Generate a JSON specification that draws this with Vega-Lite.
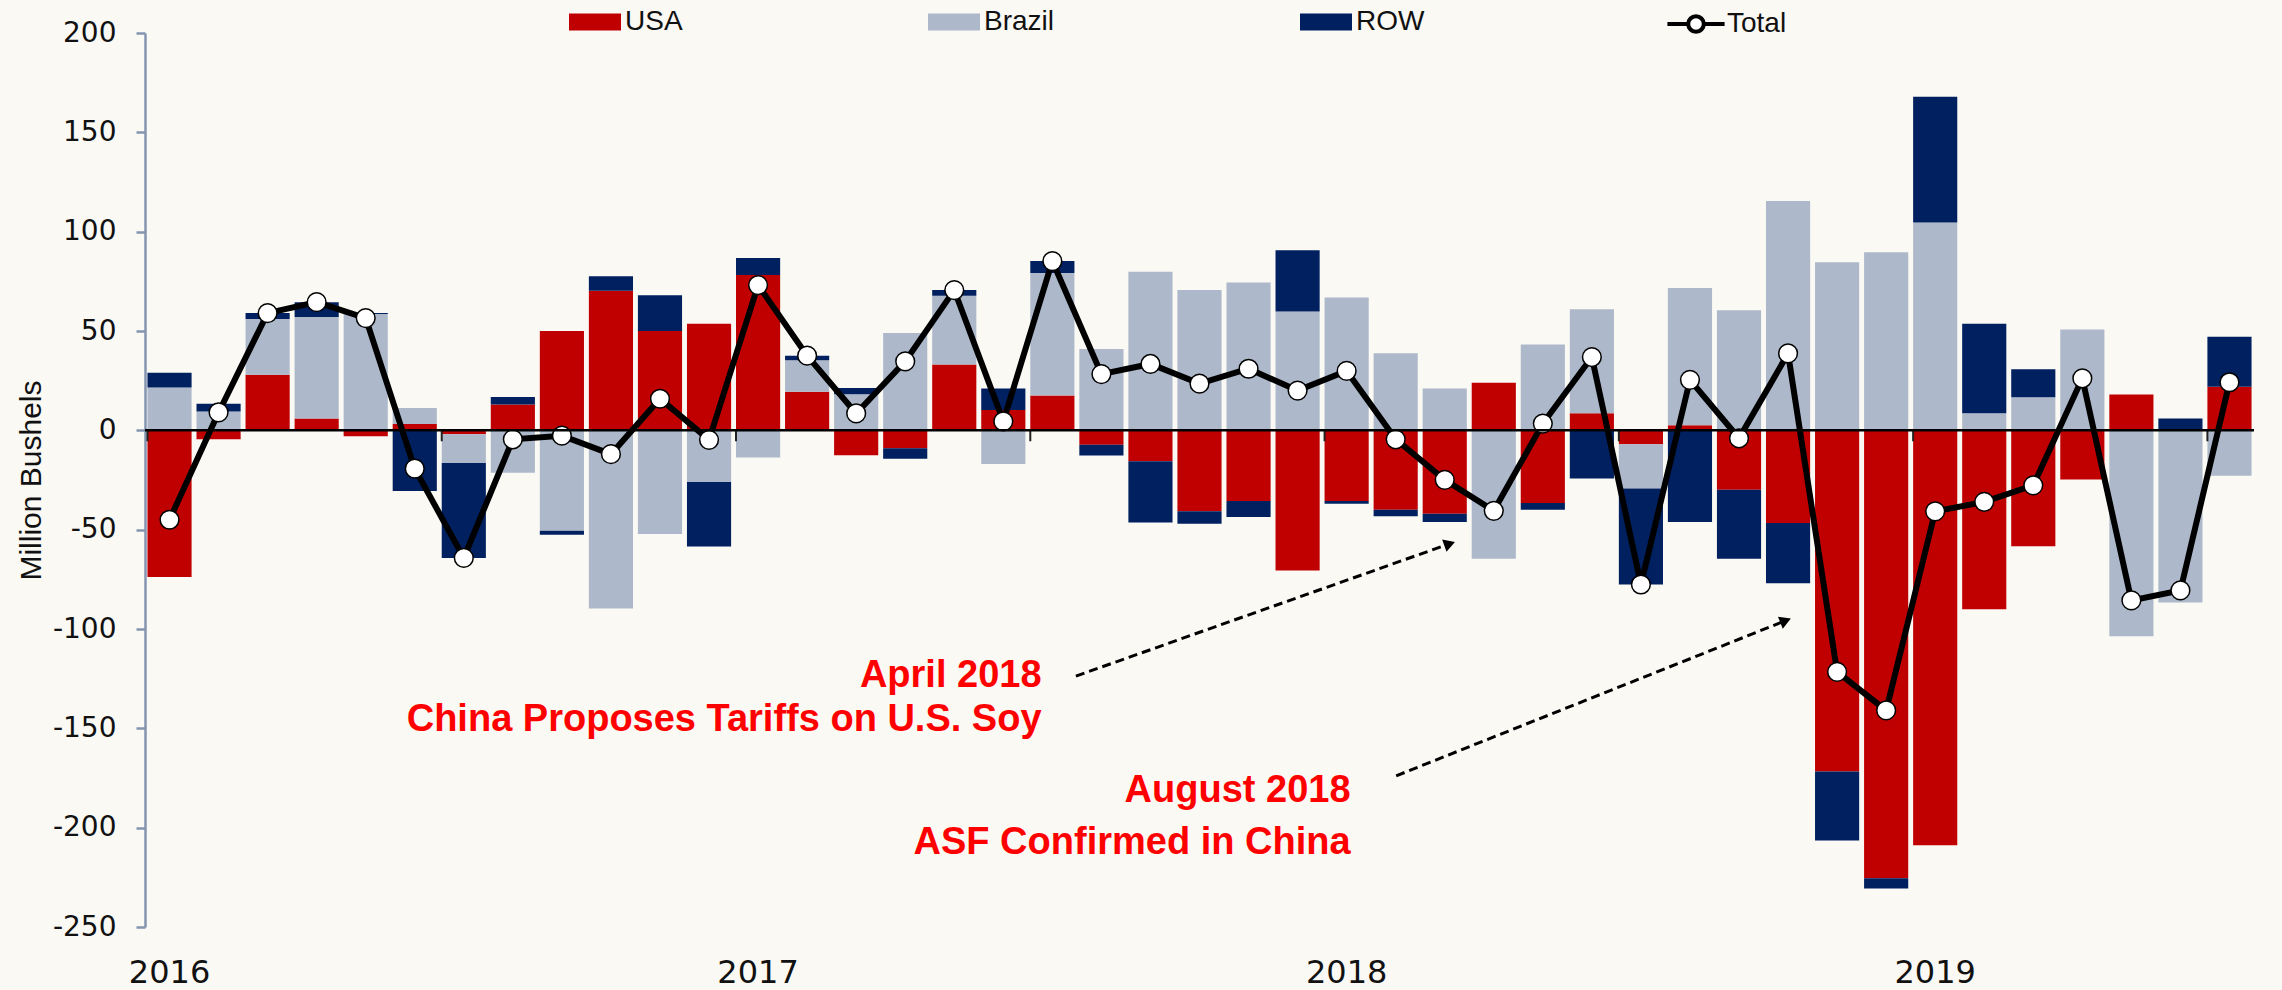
{
  "$schema": "https://vega.github.io/schema/vega-lite/v6.json",
  "width": 2109,
  "height": 894,
  "autosize": "none",
  "padding": {"left": 145, "right": 28, "top": 33, "bottom": 63},
  "background": "#faf9f4",
  "config": {"view": {"stroke": null}},
  "data": {"values": [
    {"month": "2016-01", "USA": -73.8, "Brazil": 21.6, "ROW": 7.4, "Total": -45},
    {"month": "2016-02", "USA": -4.5, "Brazil": 9.5, "ROW": 3.9, "Total": 9},
    {"month": "2016-03", "USA": 28, "Brazil": 28, "ROW": 3, "Total": 59},
    {"month": "2016-04", "USA": 6, "Brazil": 51, "ROW": 7.5, "Total": 64.5},
    {"month": "2016-05", "USA": -3, "Brazil": 58.5, "ROW": 0.5, "Total": 56.5},
    {"month": "2016-06", "USA": 3.2, "Brazil": 8, "ROW": -30.5, "Total": -19.3},
    {"month": "2016-07", "USA": -2, "Brazil": -14.5, "ROW": -47.7, "Total": -64.2},
    {"month": "2016-08", "USA": 13, "Brazil": -21.3, "ROW": 3.8, "Total": -4.5},
    {"month": "2016-09", "USA": 50, "Brazil": -50.6, "ROW": -1.9, "Total": -2.7},
    {"month": "2016-10", "USA": 70.3, "Brazil": -89.7, "ROW": 7.3, "Total": -12},
    {"month": "2016-11", "USA": 50, "Brazil": -52.2, "ROW": 18, "Total": 15.9},
    {"month": "2016-12", "USA": 53.7, "Brazil": -26, "ROW": -32.5, "Total": -4.8},
    {"month": "2017-01", "USA": 78.2, "Brazil": -13.7, "ROW": 8.6, "Total": 73.1},
    {"month": "2017-02", "USA": 19.4, "Brazil": 15.9, "ROW": 2.2, "Total": 37.6},
    {"month": "2017-03", "USA": -12.6, "Brazil": 18.2, "ROW": 3.1, "Total": 8.5},
    {"month": "2017-04", "USA": -9, "Brazil": 49, "ROW": -5.3, "Total": 34.7},
    {"month": "2017-05", "USA": 33.1, "Brazil": 34.6, "ROW": 2.9, "Total": 70.6},
    {"month": "2017-06", "USA": 10.2, "Brazil": -16.9, "ROW": 10.8, "Total": 4.5},
    {"month": "2017-07", "USA": 17.5, "Brazil": 61.7, "ROW": 6, "Total": 85.2},
    {"month": "2017-08", "USA": -7.3, "Brazil": 41, "ROW": -5.4, "Total": 28.3},
    {"month": "2017-09", "USA": -15.6, "Brazil": 79.8, "ROW": -30.8, "Total": 33.4},
    {"month": "2017-10", "USA": -40.7, "Brazil": 70.6, "ROW": -6.3, "Total": 23.5},
    {"month": "2017-11", "USA": -35.6, "Brazil": 74.4, "ROW": -8, "Total": 31},
    {"month": "2017-12", "USA": -70.6, "Brazil": 59.8, "ROW": 30.8, "Total": 20},
    {"month": "2018-01", "USA": -35.6, "Brazil": 66.8, "ROW": -1.3, "Total": 29.9},
    {"month": "2018-02", "USA": -40, "Brazil": 38.8, "ROW": -3.2, "Total": -4.5},
    {"month": "2018-03", "USA": -42, "Brazil": 21, "ROW": -4.1, "Total": -24.9},
    {"month": "2018-04", "USA": 23.9, "Brazil": -64.6, "ROW": 0, "Total": -40.5},
    {"month": "2018-05", "USA": -36.6, "Brazil": 43.2, "ROW": -3.4, "Total": 3.4},
    {"month": "2018-06", "USA": 8.6, "Brazil": 52.4, "ROW": -24.2, "Total": 36.9},
    {"month": "2018-07", "USA": -7, "Brazil": -22.3, "ROW": -48.3, "Total": -77.6},
    {"month": "2018-08", "USA": 2.5, "Brazil": 69.1, "ROW": -46.1, "Total": 25.4},
    {"month": "2018-09", "USA": -29.9, "Brazil": 60.4, "ROW": -34.7, "Total": -4},
    {"month": "2018-10", "USA": -46.7, "Brazil": 115.4, "ROW": -30.3, "Total": 38.7},
    {"month": "2018-11", "USA": -171.7, "Brazil": 84.6, "ROW": -34.7, "Total": -121.6},
    {"month": "2018-12", "USA": -225.5, "Brazil": 89.7, "ROW": -5.1, "Total": -141},
    {"month": "2019-01", "USA": -208.9, "Brazil": 104.6, "ROW": 63.3, "Total": -40.8},
    {"month": "2019-02", "USA": -90, "Brazil": 8.6, "ROW": 45.1, "Total": -36},
    {"month": "2019-03", "USA": -58.4, "Brazil": 16.7, "ROW": 14.1, "Total": -27.7},
    {"month": "2019-04", "USA": -24.7, "Brazil": 50.7, "ROW": 0, "Total": 26.2},
    {"month": "2019-05", "USA": 18, "Brazil": -103.7, "ROW": 0, "Total": -85.6},
    {"month": "2019-06", "USA": 0, "Brazil": -86.6, "ROW": 6, "Total": -80.6},
    {"month": "2019-07", "USA": 22, "Brazil": -22.9, "ROW": 25.1, "Total": 24.2}
  ]},
  "layer": [
    {
      "layer": [
        {
          "transform": [
            {"fold": ["USA", "Brazil", "ROW"], "as": ["series", "value"]},
            {"calculate": "indexof(['USA','Brazil','ROW'], datum.series)", "as": "ord"}
          ],
          "mark": {"type": "bar"},
          "encoding": {
            "x": {
              "field": "month", "type": "ordinal",
              "scale": {"paddingInner": 0.1, "paddingOuter": 0.05},
              "axis": {
                "title": null, "domain": false, "ticks": false, "tickSize": 0,
                "values": ["2016-01", "2017-01", "2018-01", "2019-01"],
                "labelExpr": "substring(datum.value, 0, 4)",
                "labelAngle": 0, "labelPadding": 30,
                "labelFont": "DejaVu Sans", "labelFontSize": 32, "labelColor": "#111111"
              }
            },
            "y": {
              "field": "value", "type": "quantitative", "stack": "zero",
              "scale": {"domain": [-250, 200], "nice": false},
              "axis": {
                "title": "Million Bushels", "titleFont": "Liberation Sans", "titleFontSize": 30,
                "titleFontWeight": "normal", "titleColor": "#111111", "titlePadding": 6,
                "values": [-250, -200, -150, -100, -50, 0, 50, 100, 150, 200],
                "labelExpr": "'' + datum.value",
                "grid": false, "domainColor": "#8395b0", "domainWidth": 2.5,
                "tickColor": "#8395b0", "tickWidth": 2.5, "tickSize": 9, "labelPadding": 20,
                "labelFont": "DejaVu Sans", "labelFontSize": 28, "labelColor": "#111111"
              }
            },
            "color": {
              "field": "series", "type": "nominal",
              "scale": {"domain": ["USA", "Brazil", "ROW"], "range": ["#c00000", "#adb9ca", "#002060"]},
              "legend": {
                "orient": "none", "legendX": 424, "legendY": -37, "direction": "horizontal",
                "title": null, "padding": 0, "symbolSize": 2704,
                "symbolType": "M-1,-0.33H1V0.33H-1Z",
                "labelFont": "Liberation Sans", "labelFontSize": 28, "labelColor": "#111111",
                "labelOffset": 4, "columnPadding": 245, "gridAlign": "none",
                "symbolOpacity": 1, "symbolStrokeWidth": 0
              }
            },
            "order": {"field": "ord", "type": "quantitative"}
          }
        },
        {
          "transform": [{"filter": "substring(datum.month, 5) === '01' || substring(datum.month, 5) === '07'"}],
          "mark": {"type": "rule", "color": "#222222", "strokeWidth": 2},
          "encoding": {
            "x": {"field": "month", "type": "ordinal", "bandPosition": 0},
            "y": {"datum": 0},
            "y2": {"datum": -5.5}
          }
        },
        {
          "mark": {"type": "line", "strokeWidth": 6},
          "encoding": {
            "x": {"field": "month", "type": "ordinal"},
            "y": {"field": "Total", "type": "quantitative"},
            "stroke": {
              "datum": "Total", "type": "nominal",
              "scale": {"domain": ["Total"], "range": ["#000000"]},
              "legend": {
                "orient": "none", "legendX": 1523, "legendY": -37,
                "title": null, "padding": 0, "symbolSize": 2704,
                "symbolType": "M-1.1,0H-0.3M0.3,0H1.1M0.3,0A0.3,0.3,0,1,1,-0.3,0A0.3,0.3,0,1,1,0.3,0Z",
                "symbolStrokeWidth": 4, "symbolFillColor": "#ffffff", "symbolOpacity": 1,
                "labelFont": "Liberation Sans", "labelFontSize": 28, "labelColor": "#111111",
                "labelOffset": 3
              }
            }
          }
        },
        {
          "mark": {"type": "point", "shape": "circle", "filled": true, "fill": "#ffffff", "stroke": "#000000", "strokeWidth": 1.5, "size": 350, "opacity": 1},
          "encoding": {
            "x": {"field": "month", "type": "ordinal"},
            "y": {"field": "Total", "type": "quantitative"}
          }
        }
      ]
    },
    {
      "layer": [
        {
          "data": {"values": [{"y": 0}]},
          "mark": {"type": "rule", "color": "#000000", "strokeWidth": 2.5},
          "encoding": {"y": {"field": "y", "type": "quantitative"}}
        },
        {
          "data": {"values": [
            {"x": 18.28, "y": -129.1, "text": "April 2018"},
            {"x": 18.28, "y": -151.2, "text": "China Proposes Tariffs on U.S. Soy"},
            {"x": 24.58, "y": -187.1, "text": "August 2018"},
            {"x": 24.58, "y": -213.4, "text": "ASF Confirmed in China"}
          ]},
          "mark": {"type": "text", "align": "right", "baseline": "alphabetic", "font": "Liberation Sans", "fontWeight": "bold", "fontSize": 38, "color": "#ff0000"},
          "encoding": {
            "x": {"field": "x", "type": "quantitative", "scale": {"domain": [0, 43], "nice": false, "zero": false}, "axis": null},
            "y": {"field": "y", "type": "quantitative"},
            "text": {"field": "text"}
          }
        },
        {
          "data": {"values": [
            {"x": 18.98, "y": -123.7, "x2": 26.6, "y2": -57.1},
            {"x": 25.51, "y": -173.9, "x2": 33.45, "y2": -95.8}
          ]},
          "mark": {"type": "rule", "color": "#000000", "strokeWidth": 3, "strokeDash": [9, 5]},
          "encoding": {
            "x": {"field": "x", "type": "quantitative", "axis": null},
            "y": {"field": "y", "type": "quantitative"},
            "x2": {"field": "x2"},
            "y2": {"field": "y2"}
          }
        },
        {
          "data": {"values": [{"x": 26.6, "y": -57.1}]},
          "mark": {"type": "point", "shape": "triangle-up", "filled": true, "color": "#000000", "size": 170, "angle": 70.5, "opacity": 1},
          "encoding": {
            "x": {"field": "x", "type": "quantitative", "axis": null},
            "y": {"field": "y", "type": "quantitative"}
          }
        },
        {
          "data": {"values": [{"x": 33.45, "y": -95.8}]},
          "mark": {"type": "point", "shape": "triangle-up", "filled": true, "color": "#000000", "size": 170, "angle": 68.3, "opacity": 1},
          "encoding": {
            "x": {"field": "x", "type": "quantitative", "axis": null},
            "y": {"field": "y", "type": "quantitative"}
          }
        }
      ]
    }
  ],
  "resolve": {"scale": {"x": "independent"}}
}
